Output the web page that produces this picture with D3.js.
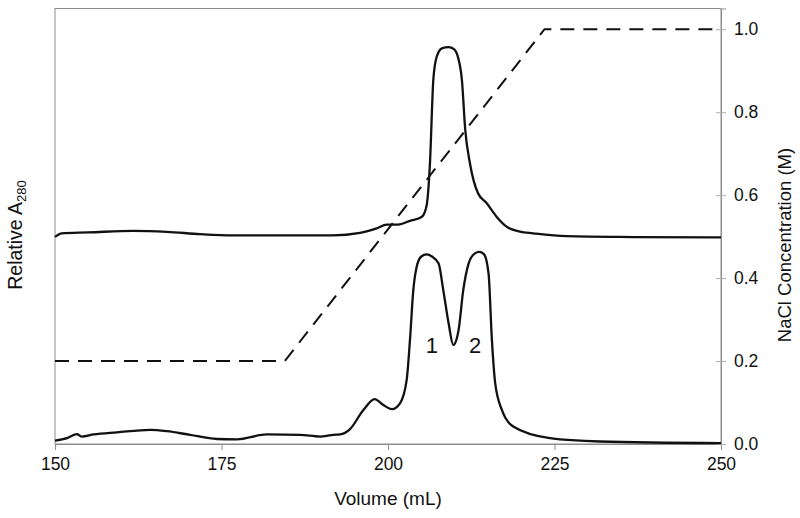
<!DOCTYPE html>
<html>
<head>
<meta charset="utf-8">
<script src="https://cdn.jsdelivr.net/npm/d3@7"></script>
<style>
  body { margin: 0; background: #fff; }
  text { font-family: Arial, "Liberation Sans", sans-serif; fill: #111; }
</style>
</head>
<body>
<div id="chart"></div>
<script>
'use strict'

// upper trace (offset by 0.5 relative units)
const upperVol = [150, 151, 155, 161.7, 166.8, 171.8, 176.7, 185, 191.7, 195.8, 198.3, 199.8, 201.5, 203.3, 205.1, 205.8, 206.3, 206.8, 207.3, 208.1, 209.1, 209.9, 210.5, 211.1, 211.6, 212.3, 213.5, 214.8, 216.3, 217.8, 219.8, 221.8, 226.8, 236.8, 250]
const upperA = [0.4995, 0.508, 0.510, 0.514, 0.5116, 0.506, 0.503, 0.503, 0.503, 0.509, 0.520, 0.529, 0.529, 0.538, 0.548, 0.575, 0.677, 0.877, 0.933, 0.954, 0.957, 0.952, 0.933, 0.877, 0.757, 0.677, 0.605, 0.581, 0.548, 0.524, 0.512, 0.508, 0.501, 0.499, 0.498]

// lower trace
const lowerVol = [150, 151.8, 153.3, 154.0, 155.8, 159.3, 164.3, 166.8, 170.3, 174.3, 177.3, 181.8, 186.8, 189.8, 191.8, 192.8, 194.3, 196.3, 198.0, 199.3, 200.6, 201.8, 202.8, 203.3, 203.8, 204.3, 205.0, 205.8, 206.6, 207.6, 208.3, 209.1, 209.8, 210.6, 211.3, 212.1, 213.0, 213.7, 214.4, 215.1, 215.6, 216.1, 217.1, 218.8, 224.3, 231.8, 250]
const lowerA = [0.008, 0.014, 0.024, 0.018, 0.023, 0.028, 0.034, 0.031, 0.022, 0.012, 0.011, 0.023, 0.022, 0.018, 0.022, 0.023, 0.036, 0.082, 0.108, 0.094, 0.084, 0.098, 0.154, 0.251, 0.371, 0.427, 0.452, 0.457, 0.452, 0.435, 0.371, 0.291, 0.239, 0.275, 0.371, 0.435, 0.459, 0.463, 0.458, 0.411, 0.251, 0.146, 0.082, 0.042, 0.014, 0.006, 0.002]

// NaCl gradient
const naclVol = [150, 184.5, 223.5, 250]
const naclConc = [0.2, 0.2, 1.0, 1.0]

const xTicks = [150, 175, 200, 225, 250]
const yTicks = [0, 0.2, 0.4, 0.6, 0.8, 1.0]

const peakLabels = ['1', '2']
const peakLabelVol = [206.6, 213.1]
const peakLabelY = [0.22, 0.22]

const width = 800
const height = 518
const margin = { top: 8.5, right: 79, bottom: 74, left: 55 }

const svg = d3.select('#chart')
  .append('svg')
  .attr('width', width)
  .attr('height', height)

const x = d3.scaleLinear()
  .domain([150, 250])
  .range([margin.left, width - margin.right])

const y = d3.scaleLinear()
  .domain([0, 1.05])
  .range([height - margin.bottom, margin.top])

// frame
svg.append('rect')
  .attr('x', margin.left)
  .attr('y', margin.top)
  .attr('width', x(250) - x(150))
  .attr('height', y(0) - y(1.05))
  .attr('fill', 'none')
  .attr('stroke', '#8c8c8c')
  .attr('stroke-width', 1)

// bottom axis
const xAxis = svg.append('g')
  .attr('transform', `translate(0,${y(0)})`)
  .call(d3.axisBottom(x).tickValues(xTicks).tickSize(6).tickPadding(8).tickFormat(d3.format('d')))
xAxis.select('.domain').attr('stroke', '#8c8c8c')
xAxis.selectAll('.tick line').attr('stroke', '#8c8c8c')
xAxis.selectAll('.tick text').style('font-size', '17.5px').attr('fill', '#111')

// right axis
const yAxis = svg.append('g')
  .attr('transform', `translate(${x(250)},0)`)
  .call(d3.axisRight(y).tickValues(yTicks).tickSize(5).tickPadding(8).tickFormat(d3.format('.1f')))
yAxis.select('.domain').attr('stroke', '#8c8c8c')
yAxis.selectAll('.tick line').attr('stroke', '#b0b0b0').attr('x1', -5)
yAxis.selectAll('.tick text').style('font-size', '17.5px').attr('fill', '#111')

const line = d3.line()
  .x(d => x(d[0]))
  .y(d => y(d[1]))
  .curve(d3.curveMonotoneX)

svg.append('path')
  .datum(d3.zip(naclVol, naclConc))
  .attr('d', d3.line().x(d => x(d[0])).y(d => y(d[1])))
  .attr('fill', 'none')
  .attr('stroke', '#111')
  .attr('stroke-width', 2)
  .attr('stroke-dasharray', '14,9')

svg.append('path')
  .datum(d3.zip(upperVol, upperA))
  .attr('d', line)
  .attr('fill', 'none')
  .attr('stroke', '#111')
  .attr('stroke-width', 2.3)

svg.append('path')
  .datum(d3.zip(lowerVol, lowerA))
  .attr('d', line)
  .attr('fill', 'none')
  .attr('stroke', '#111')
  .attr('stroke-width', 2.3)

svg.selectAll('.peak')
  .data(peakLabels)
  .enter()
  .append('text')
  .attr('class', 'peak')
  .attr('x', (d, i) => x(peakLabelVol[i]))
  .attr('y', (d, i) => y(peakLabelY[i]))
  .attr('text-anchor', 'middle')
  .style('font-size', '22px')
  .text(d => d)

// axis titles
svg.append('text')
  .attr('x', x(200))
  .attr('y', 505)
  .attr('text-anchor', 'middle')
  .style('font-size', '19px')
  .text('Volume (mL)')

const leftTitle = svg.append('text')
  .attr('transform', 'translate(22,235) rotate(-90)')
  .attr('text-anchor', 'middle')
  .style('font-size', '19.5px')
leftTitle.append('tspan').text('Relative A')
leftTitle.append('tspan').attr('dy', 4).style('font-size', '13px').text('280')

svg.append('text')
  .attr('transform', 'translate(791,245) rotate(-90)')
  .attr('text-anchor', 'middle')
  .style('font-size', '18.5px')
  .text('NaCl Concentration (M)')
</script>
</body>
</html>
